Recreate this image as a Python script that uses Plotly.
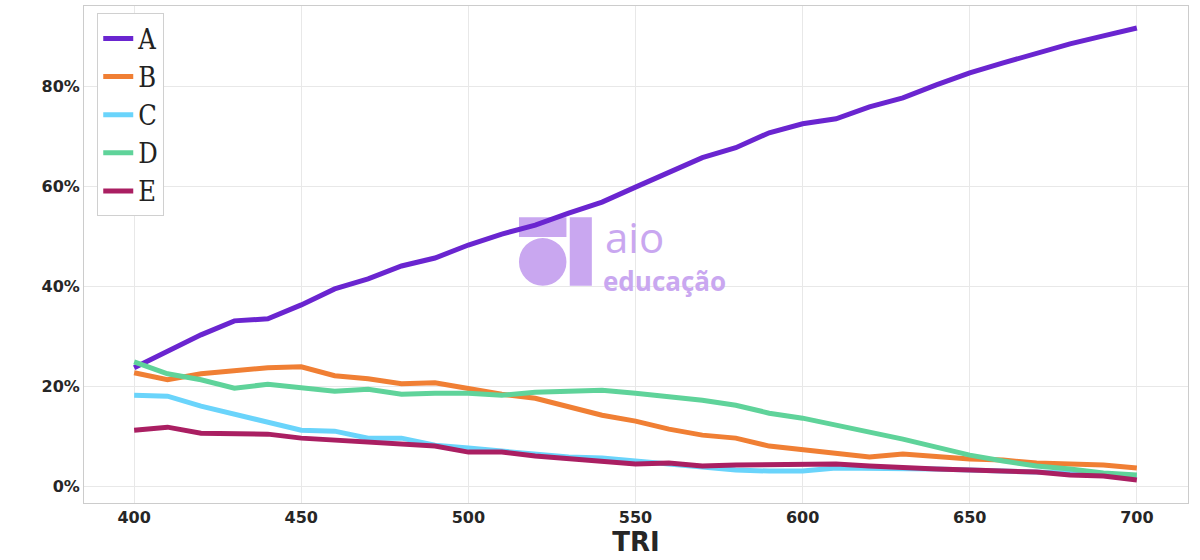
import plotly.graph_objects as go

tri = list(range(400, 701, 10))
A = [23.7,26.9,30.3,33.1,33.5,36.3,39.5,41.5,44.1,45.7,48.3,50.5,52.3,54.7,56.9,59.9,62.8,65.8,67.8,70.8,72.6,73.6,76.0,77.8,80.4,82.8,84.8,86.8,88.6,90.2,91.8]
B = [22.7,21.3,22.5,23.1,23.7,23.9,22.1,21.5,20.5,20.7,19.5,18.4,17.6,16.0,14.2,13.0,11.4,10.2,9.6,8.0,7.2,6.6,5.8,6.4,5.8,5.4,5.2,4.6,4.4,4.2,3.6]
C = [18.2,18.0,16.0,14.4,12.8,11.2,11.0,9.6,9.6,8.2,7.6,7.0,6.2,5.8,5.6,5.0,4.4,3.8,3.2,3.0,3.0,3.6,3.6,3.6,3.4,3.2,3.0,2.8,2.8,2.4,2.0]
D = [24.9,22.5,21.3,19.6,20.4,19.8,19.0,19.4,18.4,18.6,18.6,18.2,18.8,19.0,19.2,18.6,18.0,17.2,16.2,14.6,13.6,12.2,11.0,9.4,7.8,6.2,5.0,4.0,3.4,2.6,2.2]
E = [11.2,11.8,10.6,10.4,10.4,9.6,9.2,8.8,8.6,8.0,6.8,6.8,6.0,5.4,4.8,4.4,4.6,4.0,4.2,4.2,4.4,4.4,4.0,3.6,3.4,3.2,3.0,2.8,2.2,2.0,1.2]
names = ["A", "B", "C", "D", "E"]
series = [A, B, C, D, E]
colors = ["#6a25d0", "#f07f34", "#6ad4fb", "#5fd39a", "#aa1f62"]

fig = go.Figure()
for n, s, c in zip(names, series, colors):
    fig.add_trace(go.Scatter(x=tri, y=[v/100 for v in s], name=n, mode="lines",
                             line=dict(color=c, width=5)))

wm = "#c9a7f0"
fig.add_annotation(x=0.470, y=0.537, xref="paper", yref="paper", text="aio", showarrow=False,
                   font=dict(family="Open Sans", size=42, color=wm), xanchor="left", yanchor="middle")
fig.add_annotation(x=0.468, y=0.447, xref="paper", yref="paper", text="<b>educação</b>", showarrow=False,
                   font=dict(family="Open Sans", size=26, color=wm), xanchor="left", yanchor="middle")
fig.add_shape(type="rect", xref="paper", yref="paper", x0=0.440, x1=0.460, y0=0.437, y1=0.575,
              fillcolor=wm, line_width=0, layer="below")
fig.add_shape(type="circle", xref="paper", yref="paper", x0=0.394, x1=0.437, y0=0.437, y1=0.533,
              fillcolor=wm, line_width=0, layer="below")
fig.add_shape(type="rect", xref="paper", yref="paper", x0=0.394, x1=0.437, y0=0.535, y1=0.575,
              fillcolor=wm, line_width=0, layer="below")

fig.update_layout(
    width=1200, height=560, plot_bgcolor="white", paper_bgcolor="white",
    margin=dict(l=84, r=12, t=6, b=57, autoexpand=False),
    font=dict(family="DejaVu Sans", size=16, color="#262626"),
    legend=dict(x=0.012, y=0.985, xanchor="left", yanchor="top", bgcolor="white",
                bordercolor="#d0d0d0", borderwidth=1,
                font=dict(family="DejaVu Serif Condensed, DejaVu Serif", size=27, color="#222")),
    xaxis=dict(range=[385, 715.3], tickvals=[400, 450, 500, 550, 600, 650, 700], automargin=False,
               showgrid=True, gridcolor="#e8e8e8", showline=True, linecolor="#cccccc", mirror=True,
               tickfont=dict(size=16, weight="bold"), zeroline=False,
               title=dict(text="<b>TRI</b>", font=dict(size=26), standoff=0)),
    yaxis=dict(range=[-0.034, 0.962], tickvals=[0, 0.2, 0.4, 0.6, 0.8], tickformat=".0%", automargin=False,
               showgrid=True, gridcolor="#e8e8e8", showline=True, linecolor="#cccccc", mirror=True,
               tickfont=dict(size=16, weight="bold"), zeroline=False, ticksuffix=" "),
)
fig.write_html("out.html", post_script="document.body.style.margin='0';",
               config={"displayModeBar": False})
